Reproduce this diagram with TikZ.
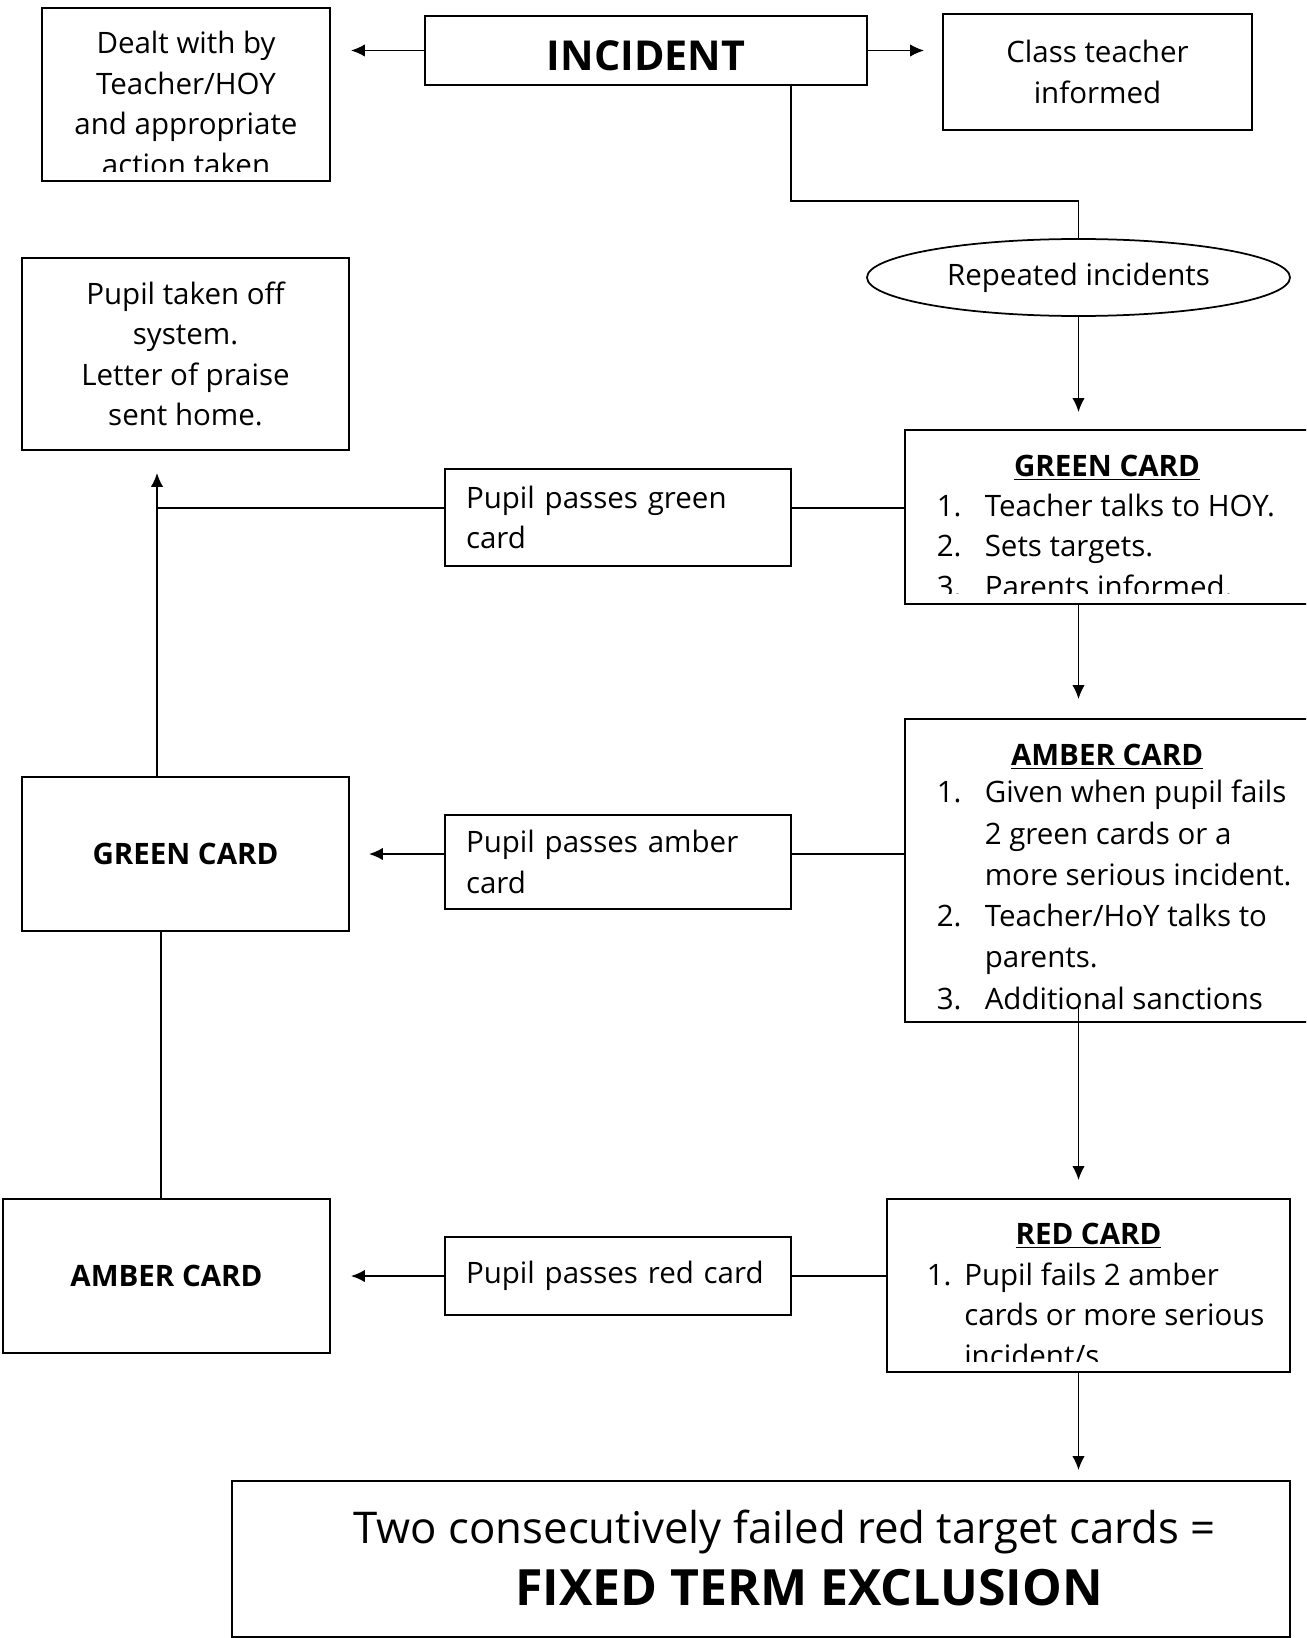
\documentclass[tikz,border=0pt]{standalone}
\usepackage{fontspec}
\setmainfont{Open Sans}
\usetikzlibrary{calc}
\usetikzlibrary{arrows.meta,shapes.geometric}

\newcommand{\itemno}[2][19.2pt]{\makebox[#1][l]{#2}}

\tikzset{every picture/.style={/utils/exec={\fontsize{11.8}{16.2}\selectfont}}}
\tikzset{
  box/.style={draw, line width=0.75pt, inner sep=0pt, align=center},
  passbox/.style={draw, line width=0.75pt, align=left, text width=121.6pt, inner xsep=8.4pt, inner ysep=0pt},
  arr/.style={-{Latex[length=5.6pt,width=5pt]}},
}

\begin{document}
\begin{tikzpicture}[x=0.4pt, y=-0.4pt, line width=0.7pt]
  \useasboundingbox (0,0) rectangle (1306,1638);
  \clip (0,0) rectangle (1306,1638);

  % top row
  \node [box, minimum width=115.2pt, minimum height=69.2pt] (dealt) at (186,94.5) {};
  \node [box, minimum width=176.8pt, minimum height=27.6pt, text height=15.8pt, text depth=0pt, font=\fontsize{16.5}{20}\selectfont\bfseries] (incident) at (646,50.5) {INCIDENT};
  \node [box, minimum width=123.6pt, minimum height=46.4pt] (classt) at (1097.5,72) {Class teacher\\informed};
  \node [draw, ellipse, inner sep=0pt, minimum width=169.2pt, minimum height=30.8pt] (repeated) at (1078.5,277.5) {Repeated incidents};

  \begin{scope}
    \clip ($(dealt.south west)+(0,-10)$) rectangle (dealt.north east);
    \node [anchor=base, align=center] (dealttxt) at ($(dealt.north)+(0,168)$) {Dealt with by\\Teacher/HOY\\and appropriate\\action taken};
  \end{scope}

  % left column
  \node [box, minimum width=130.8pt, minimum height=76.8pt] (praise) at (185.5,354) {Pupil taken off\\system.\\Letter of praise\\sent home.};
  \node [box, minimum width=130.8pt, minimum height=61.6pt, font=\bfseries] (greenL) at (185.5,854) {GREEN CARD};
  \node [box, minimum width=130.8pt, minimum height=61.6pt, font=\bfseries] (amberL) at (166.5,1276) {AMBER CARD};

  % middle column
  \node [passbox, minimum height=38.8pt] (passgreen) at (618,517.5) {Pupil passes green\\card};
  \node [passbox, minimum height=37.6pt] (passamber) at (618,862) {Pupil passes amber\\card};
  \node [passbox, minimum height=31.2pt] (passred) at (618,1276) {Pupil passes red card};

  % right column
  \node [box, minimum width=170pt, minimum height=69.6pt] (greenR) at (1117.5,517) {};
  \node [box, minimum width=170pt, minimum height=121.2pt] (amberR) at (1117.5,870.5) {};
  \node [box, minimum width=161.2pt, minimum height=69.2pt] (redR) at (1088.5,1285.5) {};

  \begin{scope}
    \clip ($(greenR.south west)+(0,-11)$) rectangle (greenR.north east);
    \node [anchor=base] (greenhead) at ($(greenR.north west)+(203,47)$) {\underline{\textbf{GREEN CARD}}};
    \node [anchor=base west, align=left] (greenlist) at ($(greenR.north west)+(22,168)$) {\itemno{1.}Teacher talks to HOY.\\\itemno{2.}Sets targets.\\\itemno{3.}Parents informed.};
  \end{scope}

  \node [anchor=base] (amberhead) at ($(amberR.north west)+(203,47)$) {\underline{\textbf{AMBER CARD}}};
  \node [anchor=base west, align=left, font=\fontsize{11.8}{16.5}\selectfont] (amberlist) at ($(amberR.north west)+(22,291)$) {\itemno{1.}Given when pupil fails\\\hspace*{19.2pt}2 green cards or a\\\hspace*{19.2pt}more serious incident.\\\itemno{2.}Teacher/HoY talks to\\\hspace*{19.2pt}parents.\\\itemno{3.}Additional sanctions};

  \begin{scope}
    \clip ($(redR.south west)+(0,-11)$) rectangle (redR.north east);
    \node [anchor=base] (redhead) at ($(redR.north)+(0,46)$) {\underline{\textbf{RED CARD}}};
    \node [anchor=base west, align=left] (redlist) at ($(redR.north west)+(30,168)$) {\itemno[15pt]{1.}Pupil fails 2 amber\\\hspace*{15pt}cards or more serious\\\hspace*{15pt}incident/s};
  \end{scope}

  % bottom
  \node [box, minimum width=423.2pt, minimum height=62.4pt] (final) at (761,1559) {};
  \node [anchor=base, font=\fontsize{17.5}{20}\selectfont] (finalone) at ($(final.north)+(23.5,63)$) {Two consecutively failed red target cards =};
  \node [anchor=base, font=\fontsize{20}{24}\selectfont\bfseries] (finaltwo) at ($(final.north)+(48,125)$) {FIXED TERM EXCLUSION};

  % connectors
  \draw [arr, shorten >=8pt] (incident.west) -- (incident.west -| dealt.east);
  \draw [arr, shorten >=7.2pt] (incident.east) -- (incident.east -| classt.west);
  \draw ($(incident.south)+(145,0)$) -- ++(0,115) -| (repeated.north);
  \draw [arr, shorten >=6.8pt] (repeated.south) -- (repeated.south |- greenR.north);
  \draw [arr, shorten >=7.6pt] (greenR.south -| repeated.south) -- (amberR.north -| repeated.south);
  \draw [arr, shorten >=7.2pt] ($(amberR.south -| repeated.south)+(0,-16)$) -- (redR.north -| repeated.south);
  \draw [arr, shorten >=4pt] (redR.south -| repeated.south) -- (final.north -| repeated.south);

  \coordinate (up) at ($(greenL.north)+(-28.5,0)$);
  \coordinate (gl) at ($(passgreen.west)+(0,-9.5)$);
  \coordinate (gr) at ($(passgreen.east)+(0,-9.5)$);
  \draw [arr, shorten >=8.8pt] (up) -- (up |- praise.south);
  \draw (gl) -- (gl -| up);
  \draw (gr) -- (gr -| greenR.west);

  \draw [arr, shorten >=7.6pt] (passamber.west |- greenL.east) -- (greenL.east);
  \draw (passamber.east |- greenL.east) -- (amberR.west |- greenL.east);
  \draw ($(amberL.north)+(-5.5,0)$) -- ($(greenL.south)+(-24.5,0)$);

  \draw [arr, shorten >=8pt] (passred.west) -- (passred.west -| amberL.east);
  \draw (passred.east) -- (passred.east -| redR.west);
\end{tikzpicture}
\end{document}
